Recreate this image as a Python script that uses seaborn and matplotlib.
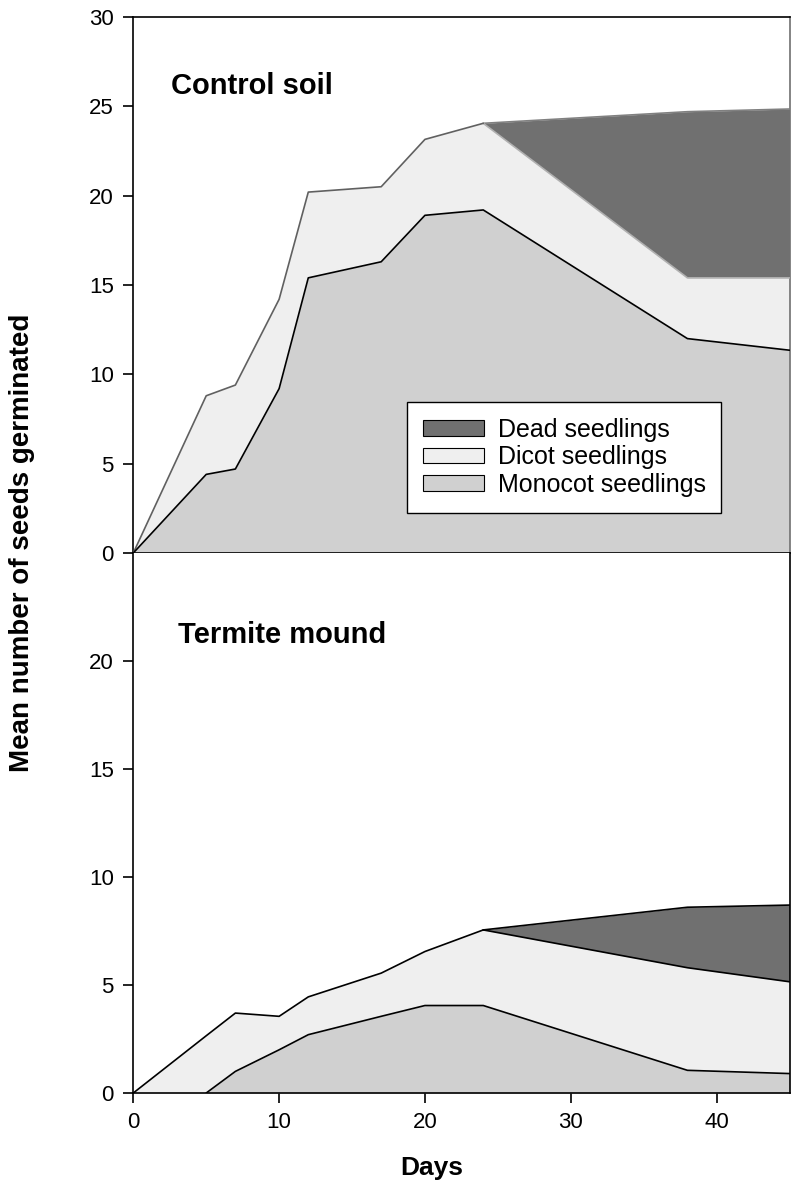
import numpy as np
import pandas as pd
import matplotlib
matplotlib.use("Agg")
import matplotlib.pyplot as plt
import seaborn as sns
from matplotlib.patches import Patch

# Sampling days
days = [0, 5, 7, 10, 12, 17, 20, 24, 38, 45]

# Control soil: cumulative means
control_monocot = [0, 4.4, 4.7, 9.2, 15.4, 16.3, 18.9, 19.2, 12.0, 11.35]
control_live_total = [0, 8.8, 9.4, 14.2, 20.2, 20.5, 23.15, 24.05, 15.4, 15.4]
control_all_total = [0, 8.8, 9.4, 14.2, 20.2, 20.5, 23.15, 24.05, 24.7, 24.85]

# Termite mound: cumulative means
mound_monocot = [0, 0, 1.0, 2.0, 2.7, 3.55, 4.05, 4.05, 1.05, 0.9]
mound_live_total = [0, 2.65, 3.7, 3.55, 4.45, 5.55, 6.55, 7.55, 5.8, 5.15]
mound_all_total = [0, 2.65, 3.7, 3.55, 4.45, 5.55, 6.55, 7.55, 8.6, 8.7]

legend_labels = ["Dead seedlings", "Dicot seedlings", "Monocot seedlings"]
x_ticks = [0, 10, 20, 30, 40]

C_DEAD = "#707070"
C_DICOT = "#efefef"
C_MONO = "#d0d0d0"

sns.set_style("ticks")
plt.rcParams["font.family"] = ["Liberation Sans", "DejaVu Sans"]
plt.rcParams.update({"text.color": "black", "axes.labelcolor": "black",
                     "xtick.color": "black", "ytick.color": "black"})

fig = plt.figure(figsize=(7.91, 11.94), dpi=100)
left, right = 133.3 / 791, 789.5 / 791
ax_top = fig.add_axes([left, 1 - 553 / 1194, right - left, (553 - 17) / 1194])
ax_bot = fig.add_axes([left, 1 - 1093 / 1194, right - left, (1093 - 553) / 1194])


def draw_panel(ax, mono, live, total, line_cols, mono_start=0):
    df = pd.DataFrame({"day": days, "mono": mono, "live": live, "total": total})
    after = df[df["day"] >= 24]
    # stacked areas
    ax.fill_between(df["day"], df["live"], df["total"], color=C_DEAD, lw=0, zorder=1)
    ax.fill_between(df["day"], df["mono"], df["live"], color=C_DICOT, lw=0, zorder=1)
    ax.fill_between(df["day"], 0, df["mono"], color=C_MONO, lw=0, zorder=1)
    mono_df = df[df["day"] >= mono_start]
    dead_edge, live_edge, top_edge, mono_edge = line_cols
    sns.lineplot(data=after, x="day", y="total", ax=ax, color=top_edge, lw=1.2,
                 estimator=None, sort=False, zorder=3)
    sns.lineplot(data=after, x="day", y="live", ax=ax, color=dead_edge, lw=1.2,
                 estimator=None, sort=False, zorder=3)
    sns.lineplot(data=df[df["day"] <= 24], x="day", y="live", ax=ax, color=live_edge,
                 lw=1.2, estimator=None, sort=False, zorder=3)
    sns.lineplot(data=mono_df, x="day", y="mono", ax=ax, color=mono_edge, lw=1.2,
                 estimator=None, sort=False, zorder=3)


draw_panel(ax_top, control_monocot, control_live_total, control_all_total,
           ("#b0b0b0", "#606060", "#808080", "black"))
draw_panel(ax_bot, mound_monocot, mound_live_total, mound_all_total,
           ("black", "black", "black", "black"), mono_start=5)

for ax in (ax_top, ax_bot):
    ax.set_xlim(0, 45)
    ax.set_xlabel("")
    ax.set_ylabel("")
    for s in ax.spines.values():
        s.set_visible(True)
        s.set_color("black")
        s.set_linewidth(1.2)
    ax.tick_params(axis="both", direction="out", length=7, width=1.2,
                   labelsize=16, colors="black", pad=7)

ax_top.set_ylim(0, 30)
ax_top.set_yticks([0, 5, 10, 15, 20, 25, 30])
ax_top.set_xticks([])
ax_top.spines["right"].set_color("#707070")

ax_bot.set_ylim(0, 25)
ax_bot.set_yticks([0, 5, 10, 15, 20])
ax_bot.set_xticks(x_ticks)
ax_bot.spines["top"].set_visible(False)

ax_top.text(0.0575, 0.871, "Control soil", transform=ax_top.transAxes,
            fontsize=21, fontweight="bold", va="center", ha="left")
ax_bot.text(0.068, 0.848, "Termite mound", transform=ax_bot.transAxes,
            fontsize=21, fontweight="bold", va="center", ha="left")

handles = [Patch(facecolor=C_DEAD, edgecolor="black", lw=0.8),
           Patch(facecolor=C_DICOT, edgecolor="black", lw=0.8),
           Patch(facecolor=C_MONO, edgecolor="black", lw=0.8)]
leg = ax_top.legend(handles, legend_labels, loc="upper left",
                    bbox_to_anchor=((407 - 133.3) / 656, 1 - (402 - 17) / 536),
                    fontsize=18, frameon=True, fancybox=False, edgecolor="black",
                    framealpha=1, borderpad=0.62, handlelength=2.45, handleheight=0.6,
                    labelspacing=0.15, handletextpad=0.55, borderaxespad=0)
leg.get_frame().set_linewidth(1.0)
leg.set_zorder(5)

fig.text(22 / 791, 1 - 543 / 1194, "Mean number of seeds germinated", rotation=90,
         fontsize=20, fontweight="bold", ha="center", va="center")
fig.text(432 / 791, 1 - 1168 / 1194, "Days", fontsize=19, fontweight="bold",
         ha="center", va="center")

fig.savefig("out.png", dpi=100, facecolor="white")
